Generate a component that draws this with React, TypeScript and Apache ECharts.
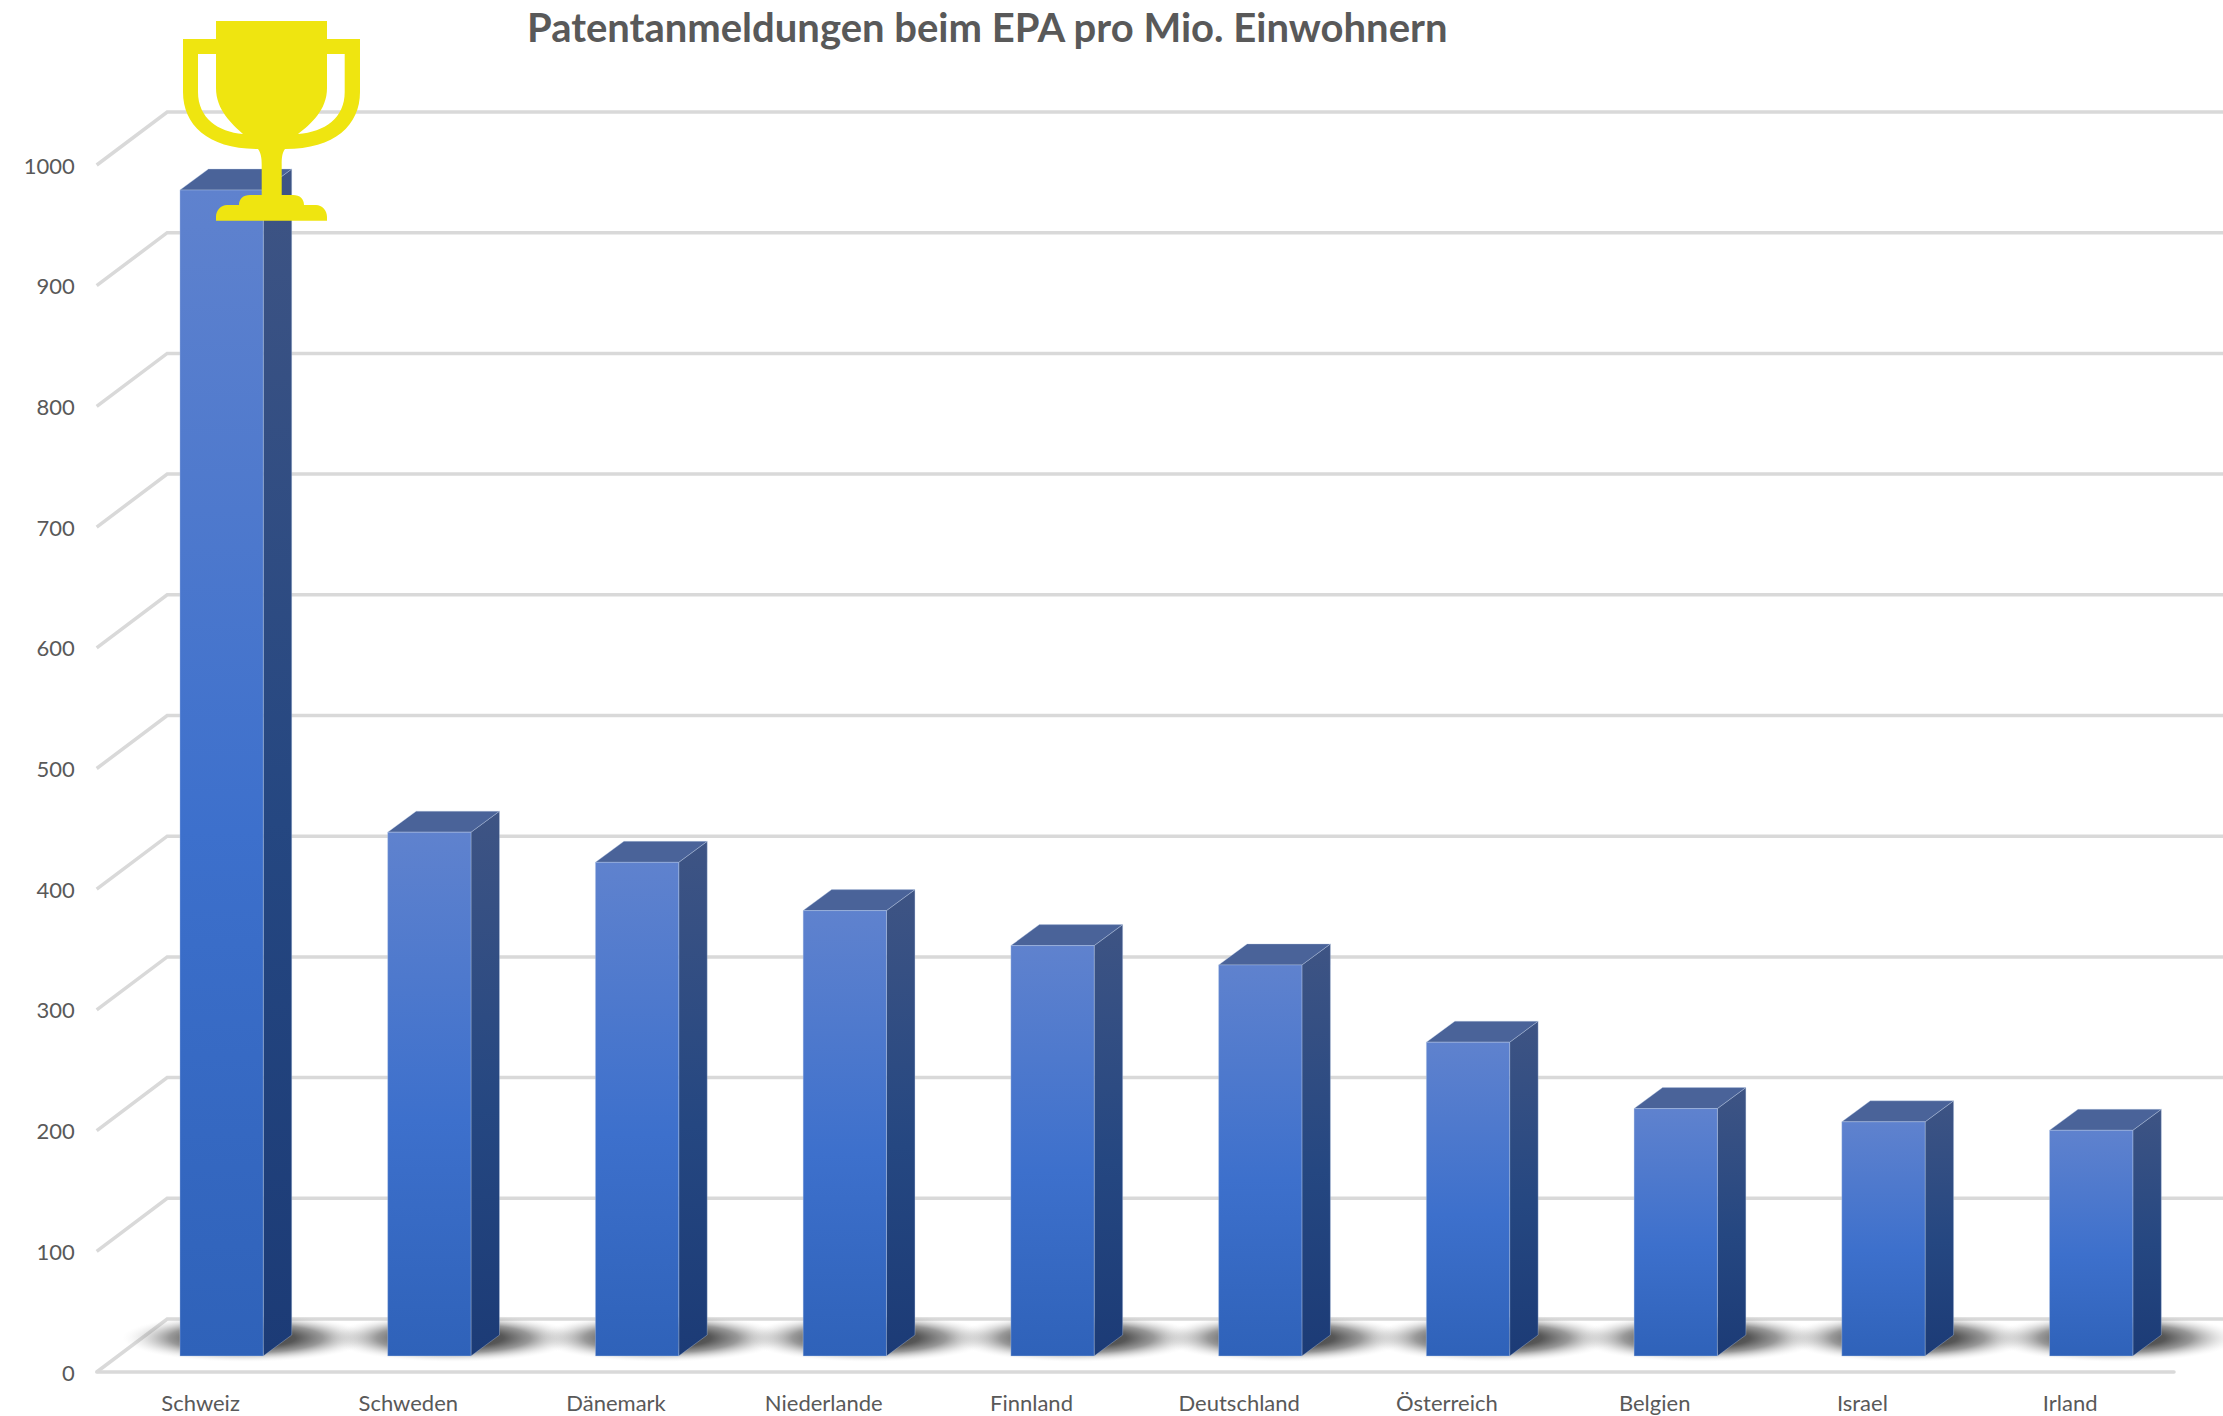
import React, { useEffect, useRef } from "react";
import * as echarts from "echarts";

const titleText = "Patentanmeldungen beim EPA pro Mio. Einwohnern";
const countries = ["Schweiz", "Schweden", "Dänemark", "Niederlande", "Finnland", "Deutschland", "Österreich", "Belgien", "Israel", "Irland"];
const patents = [966, 434, 409, 369, 340, 324, 260, 205, 194, 187];
const yTicks = [0, 100, 200, 300, 400, 500, 600, 700, 800, 900, 1000];

const trophyPath =
  "M216 21 H327 V39 H360 V92 C360 125 335 149 285 149 C282 153 281.7 158 281.7 165 V195 H293 C300 195 304 199 304 205 H316 C322 205 327 210 327 217 V220.7 H216 V217 C216 210 221 205 227 205 H239 C239 199 243 195 250 195 H261.7 V165 C261.7 158 261 153 258 149 C208 149 183 125 183 92 V39 H216 Z " +
  "M198 54 V92 C198 118 218 132 243 134 C232 124 216 110 216 88 V54 Z " +
  "M344.7 54 H327 V88 C327 110 311 124 298 134 C325 132 344.7 118 344.7 92 Z";
echarts.graphic.registerShape("trophy", echarts.graphic.extendPath(trophyPath, {}));

const FONT = "Lato";
const TEXT = "#595959";
const GRID = "#d9d9d9";

export default function App() {
  const ref = useRef<HTMLDivElement>(null);
  useEffect(() => {
    const chart = echarts.init(ref.current!, null, { renderer: "svg" });
    const frontFill = () =>
      new echarts.graphic.LinearGradient(0, 0, 0, 1, [
        { offset: 0, color: "#5f82ce" },
        { offset: 0.55, color: "#3d70cc" },
        { offset: 1, color: "#2f62b9" },
      ]);
    const sideFill = () =>
      new echarts.graphic.LinearGradient(0, 0, 0, 1, [
        { offset: 0, color: "#3e5484" },
        { offset: 0.55, color: "#254781" },
        { offset: 1, color: "#1c3b76" },
      ]);
    const shadowFill = () =>
      new echarts.graphic.RadialGradient(0.5, 0.5, 0.5, [
        { offset: 0, color: "rgba(30,30,30,0.9)" },
        { offset: 0.4, color: "rgba(45,45,45,0.8)" },
        { offset: 0.62, color: "rgba(70,70,70,0.55)" },
        { offset: 0.82, color: "rgba(130,130,130,0.22)" },
        { offset: 1, color: "rgba(220,220,220,0)" },
      ]);

    chart.setOption({
      animation: false,
      backgroundColor: "#ffffff",
      title: {
        text: titleText,
        left: 522,
        top: 2,
        textStyle: { fontFamily: FONT, fontWeight: "bold", fontSize: 40, color: TEXT },
      },
      grid: { left: 96.7, right: 49, top: 165, bottom: 44, containLabel: false },
      xAxis: {
        type: "category",
        data: countries,
        axisLine: { show: true, lineStyle: { color: GRID, width: 3.5 } },
        axisTick: { show: false },
        axisLabel: { fontFamily: FONT, fontSize: 22, color: TEXT, margin: 19 },
      },
      yAxis: {
        type: "value",
        min: 0,
        max: 1000,
        interval: 100,
        axisLine: { show: false },
        axisTick: { show: false },
        splitLine: { show: false },
        axisLabel: { fontFamily: FONT, fontSize: 22, color: TEXT, margin: 22, formatter: (v: number) => String(v) },
      },
      graphic: [
        { type: "trophy", x: 0, y: 0, z: 100, style: { fill: "#efe510" } },
      ],
      series: [
        {
          type: "custom",
          z: 1,
          clip: false,
          silent: true,
          encode: { x: 0, y: 1 },
          data: yTicks.map((v) => [0, v]),
          renderItem: (params: any, api: any) => {
            const y = api.coord([0, api.value(1)])[1];
            const x0 = params.coordSys.x;
            return {
              type: "polyline",
              shape: { points: [[x0, y], [x0 + 70.5, y - 53], [api.getWidth(), y - 53]] },
              style: { stroke: GRID, lineWidth: 3.5, fill: "none" },
            };
          },
        },
        {
          type: "custom",
          z: 2,
          clip: false,
          encode: { x: 0, y: 1 },
          data: patents.map((v, i) => [i, v]),
          renderItem: (_params: any, api: any) => {
            const top = api.coord([api.value(0), api.value(1)]);
            const base = api.coord([api.value(0), 0]);
            const w = 83.3, dx = 28.5, dy = 21, lift = 16;
            const l = top[0] - 20.6;
            const r = l + w;
            const t = top[1] - lift;
            const b = base[1] - lift;
            const edge = "rgba(190,205,232,0.35)";
            return {
              type: "group",
              children: [
                {
                  type: "ellipse",
                  shape: { cx: l + 66, cy: b - 18, rx: 124, ry: 24 },
                  style: { fill: shadowFill() },
                },
                {
                  type: "polygon",
                  shape: { points: [[r, t], [r + dx, t - dy], [r + dx, b - dy], [r, b]] },
                  style: { fill: sideFill(), stroke: edge, lineWidth: 1 },
                },
                {
                  type: "polygon",
                  shape: { points: [[l, t], [l + dx, t - dy], [r + dx, t - dy], [r, t]] },
                  style: { fill: "#4a6399", stroke: edge, lineWidth: 1 },
                },
                {
                  type: "rect",
                  shape: { x: l, y: t, width: w, height: b - t },
                  style: { fill: frontFill(), stroke: edge, lineWidth: 1 },
                },
              ],
            };
          },
        },
      ],
    });
    return () => chart.dispose();
  }, []);
  return <div ref={ref} style={{ position: "absolute", left: 0, top: 0, width: 2223, height: 1416 }} />;
}
